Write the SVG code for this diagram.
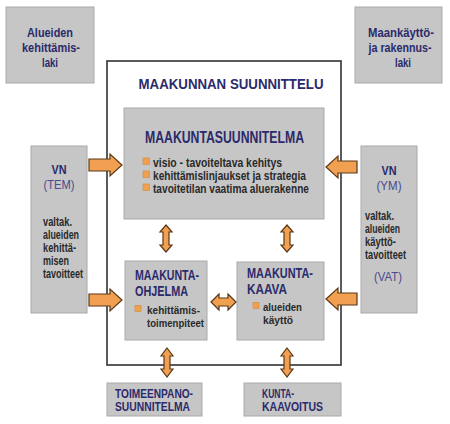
<svg xmlns="http://www.w3.org/2000/svg" width="450" height="424" viewBox="0 0 450 424">
<defs>
<style>
.box{fill:#c6c6c6;stroke:#a9a9a9;stroke-width:1}
.frame{fill:#ffffff;stroke:#333333;stroke-width:1.6}
.arr{fill:#f0a050;stroke:#5a3818;stroke-width:1.2;stroke-linejoin:miter}
.bul{fill:#f0a050;stroke:#d08838;stroke-width:0.6}
.h{font-family:"Liberation Sans",Arial,sans-serif;font-weight:bold;fill:#2b2a6b}
.t{font-family:"Liberation Sans",Arial,sans-serif;font-weight:bold;fill:#2a2a2a}
.p{font-family:"Liberation Sans",Arial,sans-serif;fill:#4a4a8c}
</style>
</defs>
<rect width="450" height="424" fill="#ffffff"/>

<g id="frame">
<rect class="frame" x="107" y="61" width="234" height="304"/>
<text class="h" x="231" y="89" font-size="15.5" text-anchor="middle" textLength="185" lengthAdjust="spacingAndGlyphs">MAAKUNNAN SUUNNITTELU</text>
</g>

<g id="alueiden-laki">
<rect class="box" x="6" y="7" width="88" height="76"/>
<text class="h" font-size="13" text-anchor="middle"><tspan x="50" y="37" textLength="46" lengthAdjust="spacingAndGlyphs">Alueiden</tspan><tspan x="51" y="52" textLength="58" lengthAdjust="spacingAndGlyphs">kehittämis-</tspan><tspan x="50" y="66.5" textLength="16" lengthAdjust="spacingAndGlyphs">laki</tspan></text>
</g>

<g id="mrl">
<rect class="box" x="355" y="7" width="87" height="76"/>
<text class="h" font-size="13" text-anchor="middle"><tspan x="401" y="37" textLength="66" lengthAdjust="spacingAndGlyphs">Maankäyttö-</tspan><tspan x="400" y="52" textLength="63" lengthAdjust="spacingAndGlyphs">ja rakennus-</tspan><tspan x="403" y="66.5" textLength="16" lengthAdjust="spacingAndGlyphs">laki</tspan></text>
</g>

<g id="vn-tem">
<rect class="box" x="31" y="146" width="56" height="167"/>
<text class="h" x="59" y="174" font-size="13" text-anchor="middle" textLength="15" lengthAdjust="spacingAndGlyphs">VN</text>
<text class="p" x="59" y="189" font-size="13" text-anchor="middle" textLength="31" lengthAdjust="spacingAndGlyphs">(TEM)</text>
<text class="t" font-size="12.5"><tspan x="43" y="226" textLength="29" lengthAdjust="spacingAndGlyphs">valtak.</tspan><tspan x="43" y="239" textLength="36" lengthAdjust="spacingAndGlyphs">alueiden</tspan><tspan x="43" y="252" textLength="33" lengthAdjust="spacingAndGlyphs">kehittä-</tspan><tspan x="43" y="265" textLength="26" lengthAdjust="spacingAndGlyphs">misen</tspan><tspan x="43" y="278" textLength="40" lengthAdjust="spacingAndGlyphs">tavoitteet</tspan></text>
</g>

<g id="vn-ym">
<rect class="box" x="361" y="146" width="56" height="167"/>
<text class="h" x="389" y="175" font-size="13" text-anchor="middle" textLength="15" lengthAdjust="spacingAndGlyphs">VN</text>
<text class="p" x="389" y="190" font-size="13" text-anchor="middle" textLength="25" lengthAdjust="spacingAndGlyphs">(YM)</text>
<text class="t" font-size="12.5"><tspan x="365" y="220" textLength="29" lengthAdjust="spacingAndGlyphs">valtak.</tspan><tspan x="365" y="233" textLength="35" lengthAdjust="spacingAndGlyphs">alueiden</tspan><tspan x="365" y="246" textLength="31" lengthAdjust="spacingAndGlyphs">käyttö-</tspan><tspan x="365" y="259" textLength="41" lengthAdjust="spacingAndGlyphs">tavoitteet</tspan></text>
<text class="p" x="388" y="281" font-size="13" text-anchor="middle" textLength="28" lengthAdjust="spacingAndGlyphs">(VAT)</text>
</g>

<g id="maakuntasuunnitelma">
<rect class="box" x="124" y="108" width="200" height="111"/>
<text class="h" x="224.5" y="143" font-size="17" text-anchor="middle" textLength="159" lengthAdjust="spacingAndGlyphs">MAAKUNTASUUNNITELMA</text>
<rect class="bul" x="143" y="158" width="6.5" height="6.5"/>
<rect class="bul" x="143" y="171" width="6.5" height="6.5"/>
<rect class="bul" x="143" y="184" width="6.5" height="6.5"/>
<text class="t" font-size="12.3"><tspan x="153" y="167" textLength="129" lengthAdjust="spacingAndGlyphs">visio - tavoiteltava kehitys</tspan><tspan x="153" y="180" textLength="153" lengthAdjust="spacingAndGlyphs">kehittämislinjaukset ja strategia</tspan><tspan x="153" y="193" textLength="156" lengthAdjust="spacingAndGlyphs">tavoitetilan vaatima aluerakenne</tspan></text>
</g>

<g id="maakuntaohjelma">
<rect class="box" x="125" y="261" width="82" height="79"/>
<text class="h" font-size="14"><tspan x="135" y="280" textLength="64" lengthAdjust="spacingAndGlyphs">MAAKUNTA-</tspan><tspan x="135" y="295.5" textLength="53" lengthAdjust="spacingAndGlyphs">OHJELMA</tspan></text>
<rect class="bul" x="135" y="305.5" width="6" height="6"/>
<text class="t" font-size="11.8"><tspan x="147" y="313.5" textLength="53" lengthAdjust="spacingAndGlyphs">kehittämis-</tspan><tspan x="147" y="326.5" textLength="57" lengthAdjust="spacingAndGlyphs">toimenpiteet</tspan></text>
</g>

<g id="maakuntakaava">
<rect class="box" x="237" y="262" width="87" height="78"/>
<text class="h" font-size="14"><tspan x="247" y="278" textLength="66" lengthAdjust="spacingAndGlyphs">MAAKUNTA-</tspan><tspan x="247" y="294" textLength="40" lengthAdjust="spacingAndGlyphs">KAAVA</tspan></text>
<rect class="bul" x="253" y="302.5" width="6" height="6"/>
<text class="t" font-size="11.8"><tspan x="263" y="310.5" textLength="39" lengthAdjust="spacingAndGlyphs">alueiden</tspan><tspan x="263" y="323.5" textLength="30" lengthAdjust="spacingAndGlyphs">käyttö</tspan></text>
</g>

<g id="toimeenpanosuunnitelma">
<rect class="box" x="107" y="383" width="95" height="33"/>
<text class="h" font-size="12.3"><tspan x="115" y="398" textLength="78" lengthAdjust="spacingAndGlyphs">TOIMEENPANO-</tspan><tspan x="115" y="411" textLength="75" lengthAdjust="spacingAndGlyphs">SUUNNITELMA</tspan></text>
</g>

<g id="kuntakaavoitus">
<rect class="box" x="244" y="383" width="97" height="33"/>
<text class="h" font-size="12.3"><tspan x="262" y="398" textLength="32" lengthAdjust="spacingAndGlyphs">KUNTA-</tspan><tspan x="262" y="411" textLength="61" lengthAdjust="spacingAndGlyphs">KAAVOITUS</tspan></text>
</g>

<g id="connectors">
<path class="arr" d="M89,159 H110 V154 L122,165 L110,176 V171 H89 Z"/>
<path class="arr" d="M89,294 H110 V289 L122,300 L110,311 V306 H89 Z"/>
<path class="arr" d="M357,161 H338 V156 L326,167 L338,178 V173 H357 Z"/>
<path class="arr" d="M357,293 H338 V288 L326,299 L338,310 V305 H357 Z"/>
<path class="arr" d="M166,225 L172,232 H169 V245 H172 L166,252 L160,245 H163 V232 H160 Z"/>
<path class="arr" d="M287,225 L293,232 H290 V245 H293 L287,252 L281,245 H284 V232 H281 Z"/>
<path class="arr" d="M167,348 L173,356 H170 V369 H173 L167,377 L161,369 H164 V356 H161 Z"/>
<path class="arr" d="M287,348 L293,356 H290 V369 H293 L287,377 L281,369 H284 V356 H281 Z"/>
<path class="arr" d="M211,302 L219,294 V298 H228 V294 L236,302 L228,310 V306 H219 V310 Z"/>
</g>
</svg>
